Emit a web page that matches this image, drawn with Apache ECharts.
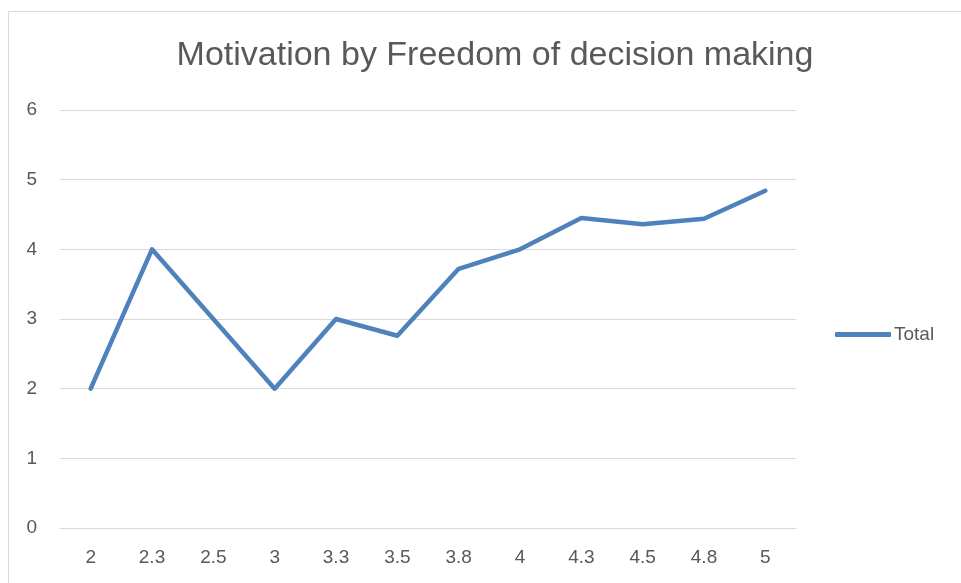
<!DOCTYPE html>
<html>
<head>
<meta charset="utf-8">
<script src="https://cdn.jsdelivr.net/npm/echarts@6/dist/echarts.min.js"></script>
<style>
  html, body { margin: 0; padding: 0; background: #fff; }
  #chart { width: 961px; height: 583px; }
</style>
</head>
<body>
<div id="chart"></div>
<script>
var categories = ['2', '2.3', '2.5', '3', '3.3', '3.5', '3.8', '4', '4.3', '4.5', '4.8', '5'];
var totalValues = [2, 4, 3, 2, 3, 2.76, 3.72, 4, 4.45, 4.36, 4.44, 4.84];
var yTicks = [0, 1, 2, 3, 4, 5, 6];

var chart = echarts.init(document.getElementById('chart'));
var fontFam = '"Liberation Sans", Arial, sans-serif';
var option = {
    animation: false,
    title: {
        text: 'Motivation by Freedom of decision making',
        left: 490,
        textAlign: 'center',
        top: 34,
        textStyle: {
            fontFamily: fontFam,
            fontSize: 34,
            fontWeight: 'normal',
            color: '#595959'
        }
    },
    graphic: [{
        type: 'rect',
        shape: { x: 8.5, y: 11.5, width: 1000, height: 1000 },
        style: { fill: 'none', stroke: '#d9d9d9', lineWidth: 1 }
    }],
    legend: {
        data: ['Total'],
        left: 830,
        top: 320,
        itemWidth: 56,
        itemHeight: 5,
        itemGap: 4,
        icon: 'roundRect',
        textStyle: { fontFamily: fontFam, fontSize: 19, color: '#595959', padding: [0, 0, 0, -2] }
    },
    grid: {
        left: 60,
        right: 165,
        top: 110,
        bottom: 55,
        containLabel: false
    },
    xAxis: {
        type: 'category',
        data: categories,
        boundaryGap: true,
        axisLine: { show: true, lineStyle: { color: '#d9d9d9', width: 1 } },
        axisTick: { show: false },
        axisLabel: { margin: 20, fontFamily: fontFam, fontSize: 19, color: '#595959' }
    },
    yAxis: {
        type: 'value',
        min: yTicks[0],
        max: yTicks[yTicks.length - 1],
        interval: 1,
        axisLine: { show: false },
        axisTick: { show: false },
        splitLine: { lineStyle: { color: '#d9d9d9', width: 1 } },
        axisLabel: { margin: 23, fontFamily: fontFam, fontSize: 19, color: '#595959' }
    },
    series: [{
        name: 'Total',
        type: 'line',
        data: totalValues,
        symbol: 'none',
        lineStyle: { color: '#4f81bd', width: 4.5, cap: 'round', join: 'round' },
        itemStyle: { color: '#4f81bd' }
    }]
};
chart.setOption(option);
</script>
</body>
</html>
